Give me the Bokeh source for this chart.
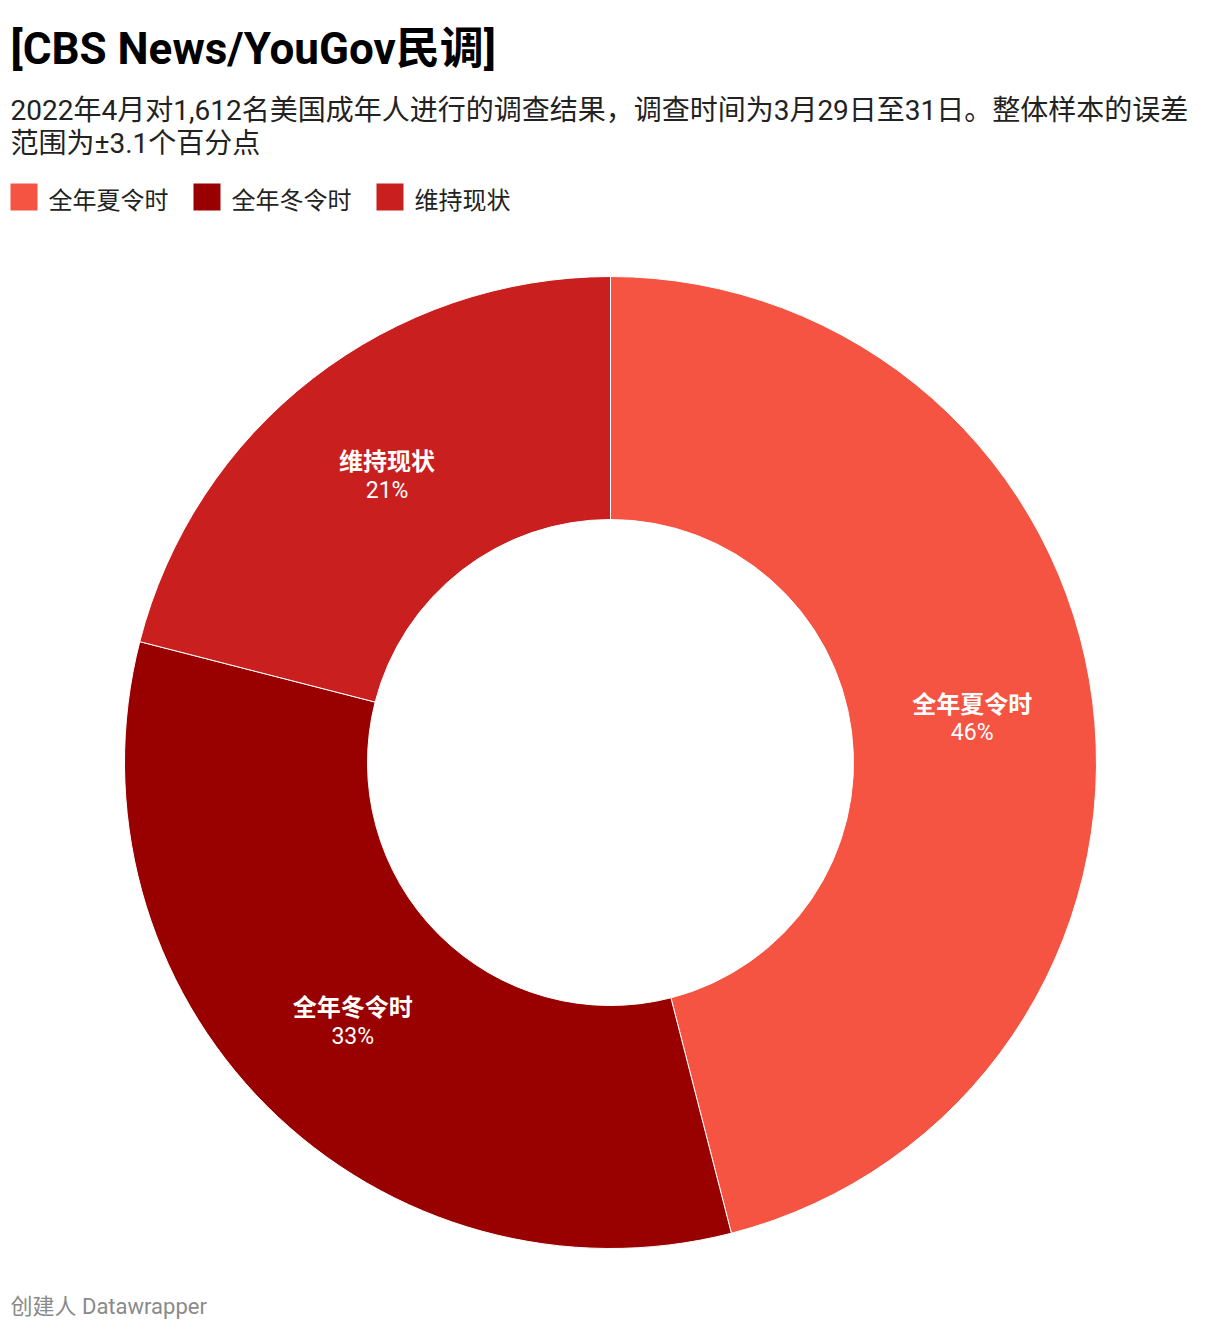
import numpy as np
from bokeh.plotting import figure
from bokeh.models import Range1d, ColumnDataSource
from bokeh.core.properties import value
from bokeh.embed import file_html
from bokeh.resources import INLINE

# Données
categories = ["全年夏令时", "全年冬令时", "维持现状"]
shares = [46, 33, 21]
colors = ["#f65443", "#990000", "#c91f1f"]

title_txt = "[CBS News/YouGov民调]"
subtitle_lines = ["2022年4月对1,612名美国成年人进行的调查结果，调查时间为3月29日至31日。整体样本的误差",
                  "范围为±3.1个百分点"]
footer_txt = "创建人 Datawrapper"

W, H = 1220, 1330
FONT = value("Roboto, 'Noto Sans CJK SC'")

def py(page_y):
    # coordonnée verticale de la page -> coordonnée du graphe
    return H - page_y

p = figure(width=W, height=H, x_range=Range1d(0, W), y_range=Range1d(0, H),
           output_backend="svg", toolbar_location=None,
           x_axis_location=None, y_axis_location=None, min_border=0)
p.grid.visible = False
p.outline_line_color = None
p.background_fill_color = "white"

# Titre et sous-titre
p.text([10], [py(48)], text=[title_txt], text_font=FONT, text_font_size="44px",
       text_font_style="bold", text_color="#000000", text_baseline="middle")
p.text([10, 10], [py(110), py(143)], text=subtitle_lines, text_font=FONT,
       text_font_size="28px", text_color="#222222", text_baseline="middle")

# Légende
lx = 10
leg_x, leg_tx = [], []
for c in categories:
    leg_x.append(lx + 13.5)
    leg_tx.append(lx + 38)
    lx = lx + 38 + len(c) * 24 + 25
p.rect(leg_x, [py(196.5)] * 3, width=27, height=27, fill_color=colors, line_color=None)
p.text(leg_tx, [py(200)] * 3, text=categories, text_font=FONT, text_font_size="24px",
       text_color="#222222", text_baseline="middle")

# Anneau
cx, cy = 610, py(762)
r_in, r_out = 243, 486
frac = np.array(shares) / sum(shares)
cum = np.concatenate([[0], np.cumsum(frac)])
start = np.pi / 2 - cum[:-1] * 2 * np.pi
end = np.pi / 2 - cum[1:] * 2 * np.pi
mid = (start + end) / 2
src = ColumnDataSource(dict(start=start, end=end, color=colors, cat=categories))
p.annular_wedge(x=cx, y=cy, inner_radius=r_in, outer_radius=r_out,
                start_angle="start", end_angle="end", direction="clock",
                fill_color="color", line_color="white", line_width=1, source=src)

r_lab = (r_in + r_out) / 2
lab_x = cx + r_lab * np.cos(mid)
lab_y = cy + r_lab * np.sin(mid)
p.text(lab_x, lab_y + 12, text=categories, text_font=FONT, text_font_size="24px",
       text_font_style="bold", text_color="white", text_align="center", text_baseline="middle")
p.text(lab_x, lab_y - 16, text=[f"{s}%" for s in shares], text_font=FONT,
       text_font_size="23px", text_color="white", text_align="center", text_baseline="middle")

# Pied de page
p.text([10], [py(1306)], text=[footer_txt], text_font=FONT, text_font_size="22px",
       text_color="#8a8a8a", text_baseline="middle")

open("out.html", "w").write(file_html(p, INLINE))
